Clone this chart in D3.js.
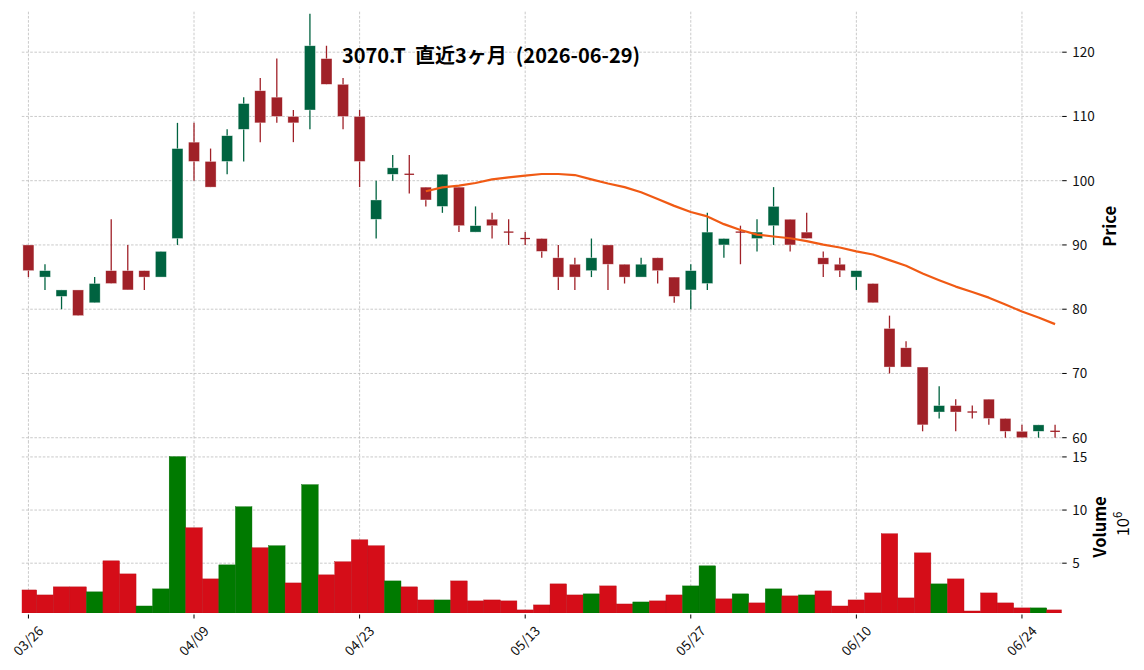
<!DOCTYPE html>
<html><head><meta charset="utf-8">
<script src="https://cdn.jsdelivr.net/npm/d3@7/dist/d3.min.js"></script>
<style>
html,body{margin:0;padding:0;background:#fff;}
svg{display:block;font-family:"Noto Sans CJK JP","Noto Sans",sans-serif;}
</style></head>
<body><svg id="c" width="1144" height="670"></svg>
<script>
const dates = ["03/26","03/27","03/30","03/31","04/01","04/02","04/03","04/06","04/07","04/08",
"04/09","04/10","04/13","04/14","04/15","04/16","04/17","04/20","04/21","04/22",
"04/23","04/24","04/27","04/28","04/30","05/01","05/07","05/08","05/11","05/12",
"05/13","05/14","05/15","05/18","05/19","05/20","05/21","05/22","05/25","05/26",
"05/27","05/28","05/29","06/01","06/02","06/03","06/04","06/05","06/08","06/09",
"06/10","06/11","06/12","06/15","06/16","06/17","06/18","06/19","06/22","06/23",
"06/24","06/25","06/26"];
const opens  = [90,85,82,83,81,86,86,86,85,91,106,103,103,108,114,113,110,111,119,115,110,94,101,101,99,96,99,92,94,92,91,91,88,87,86,90,87,85,88,85,83,84,90,92,91,93,94,92,88,87,85,84,77,74,71,64,65,64,66,63,61,61,61];
const highs  = [90,87,83,83,85,94,90,86,89,109,109,105,108,113,116,119,111,126,121,116,111,100,104,104,99,101,99,96,95,94,92,91,90,88,91,90,87,88,88,85,87,95,91,93,94,99,94,95,89,88,86,84,79,75,71,68,66,65,66,63,62,62,62];
const lows   = [85,83,80,79,81,84,83,83,85,90,100,99,101,103,106,109,106,108,115,108,99,91,100,98,96,95,92,92,91,90,90,88,83,83,85,83,84,85,84,81,80,83,88,87,89,90,89,91,85,85,83,81,70,71,61,63,61,63,62,60,60,60,60];
const closes = [86,86,83,79,84,84,83,85,89,105,103,99,107,112,109,110,109,121,115,110,103,97,102,101,97,101,93,93,93,92,91,89,85,85,88,87,85,87,86,82,86,92,91,92,92,96,90,91,87,86,86,81,71,71,62,65,64,64,63,61,60,62,61];
const volumes = [2.48,2.01,2.77,2.77,2.30,5.22,3.99,0.97,2.58,15.03,8.33,3.52,4.84,10.31,6.45,6.64,3.14,12.39,3.90,5.13,7.20,6.64,3.33,2.77,1.54,1.54,3.33,1.45,1.54,1.45,0.60,1.07,3.05,2.01,2.11,2.86,1.16,1.35,1.45,2.01,2.86,4.75,1.64,2.11,1.26,2.58,1.92,2.01,2.39,0.97,1.54,2.20,7.77,1.73,5.97,3.05,3.52,0.50,2.20,1.26,0.79,0.79,0.60];
const ma25 = [null,null,null,null,null,null,null,null,null,null,null,null,null,null,null,null,null,null,null,null,null,null,null,null,
98.36,98.96,99.24,99.64,100.2,100.52,100.8,101.04,101.04,100.88,100.2,99.56,99.0,98.2,97.16,96.08,95.12,94.44,93.24,92.32,91.6,91.32,91.04,90.6,90.04,89.6,89.0,88.52,87.64,86.76,85.56,84.52,83.52,82.68,81.8,80.72,79.64,78.72,77.68];
const xTickLabels = ["03/26","04/09","04/23","05/13","05/27","06/10","06/24"];
const priceTicks = [60,70,80,90,100,110,120];
const volumeTicks = [5,10,15];
const titleText = "3070.T\u00a0\u00a0直近3ヶ月\u00a0\u00a0(2026-06-29)";

const svg = d3.select("#c");
const L = 21.8, R = 1061.7;
const pTop = 11.7, pBot = 441, vTop = 441, vBot = 613;
const x = d3.scaleLinear().domain([-0.4, dates.length - 1 + 0.4]).range([L, R]);
const yP = d3.scaleLinear().domain([59.49, 126.3]).range([pBot, pTop]);
const yV = d3.scaleLinear().domain([0.31, 16.5]).range([vBot, vTop]);
const step = x(1) - x(0);
const gridColor = "#bdbdbd";
const idx = d3.range(dates.length);
const tickIdx = xTickLabels.map(t => dates.indexOf(t));

svg.append("defs").append("clipPath").attr("id","vclip").append("rect")
  .attr("x", L).attr("y", vTop).attr("width", R - L).attr("height", vBot - vTop);

// grids
const grid = svg.append("g").attr("stroke", gridColor).attr("stroke-width", 0.8).attr("stroke-dasharray", "2.6,1.6").attr("fill","none");
priceTicks.forEach(t => grid.append("line").attr("x1", L).attr("x2", R).attr("y1", yP(t)).attr("y2", yP(t)));
volumeTicks.forEach(t => grid.append("line").attr("x1", L).attr("x2", R).attr("y1", yV(t)).attr("y2", yV(t)));
tickIdx.forEach(i => {
  grid.append("line").attr("x1", x(i)).attr("x2", x(i)).attr("y1", pTop).attr("y2", pBot);
  grid.append("line").attr("x1", x(i)).attr("x2", x(i)).attr("y1", vTop).attr("y2", vBot);
});

// volume bars
const vUp = "#007a00", vDn = "#d50d18";
const isUpVol = i => closes[i] > (i === 0 ? opens[0] : closes[i - 1]);
svg.append("g").attr("clip-path","url(#vclip)").selectAll("rect").data(idx).join("rect")
  .attr("x", i => x(i) - step / 2).attr("width", step)
  .attr("y", i => yV(volumes[i])).attr("height", i => yV.range()[0] - yV(volumes[i]))
  .attr("fill", i => isUpVol(i) ? vUp : vDn)
  .attr("stroke", i => isUpVol(i) ? "#006a00" : "#b80c15").attr("stroke-width", 0.4);

// candles
const cUp = "#006340", cDn = "#A02128";
const bw = 11;
const cg = svg.append("g");
idx.forEach(i => {
  const col = closes[i] > opens[i] ? cUp : cDn;
  cg.append("line").attr("x1", x(i)).attr("x2", x(i)).attr("y1", yP(highs[i])).attr("y2", yP(lows[i]))
    .attr("stroke", col).attr("stroke-width", 1.3);
  if (opens[i] === closes[i]) {
    cg.append("line").attr("x1", x(i) - 4.8).attr("x2", x(i) + 4.8).attr("y1", yP(opens[i])).attr("y2", yP(opens[i]))
      .attr("stroke", col).attr("stroke-width", 1.3);
  } else {
    const top = yP(Math.max(opens[i], closes[i])), bot = yP(Math.min(opens[i], closes[i]));
    cg.append("rect").attr("x", x(i) - bw / 2).attr("width", bw).attr("y", top).attr("height", bot - top)
      .attr("fill", col).attr("stroke", "#ffffff").attr("stroke-opacity", 0.6).attr("stroke-width", 0.6);
  }
});

// moving average
const line = d3.line().defined(i => ma25[i] !== null).x(i => x(i)).y(i => yP(ma25[i])).curve(d3.curveLinear);
svg.append("path").datum(idx).attr("d", line).attr("fill", "none").attr("stroke", "#f05a14").attr("stroke-width", 2.2)
  .attr("stroke-linejoin","round");

// right y axes
const axP = svg.append("g");
priceTicks.forEach(t => {
  axP.append("line").attr("x1", R + 0.5).attr("x2", R + 5).attr("y1", yP(t)).attr("y2", yP(t)).attr("stroke", "#000").attr("stroke-width", 1);
  axP.append("text").attr("x", R + 10.5).attr("y", yP(t)).attr("dy", "0.36em").attr("font-size", 13.5).attr("fill", "#111").text(t);
});
volumeTicks.forEach(t => {
  axP.append("line").attr("x1", R + 0.5).attr("x2", R + 5).attr("y1", yV(t)).attr("y2", yV(t)).attr("stroke", "#000").attr("stroke-width", 1);
  axP.append("text").attr("x", R + 10.5).attr("y", yV(t)).attr("dy", "0.36em").attr("font-size", 13.5).attr("fill", "#111").text(t);
});

// x axis ticks
tickIdx.forEach((i, k) => {
  svg.append("line").attr("x1", x(i)).attr("x2", x(i)).attr("y1", vBot + 1.5).attr("y2", vBot + 5.5).attr("stroke", "#000").attr("stroke-width", 1);
  svg.append("text").attr("transform", `translate(${x(i)},641) rotate(-45)`).attr("text-anchor", "middle")
    .attr("dy", "0.35em").attr("font-size", 13.5).attr("fill", "#111").text(xTickLabels[k]);
});

// labels
svg.append("text").attr("transform", `translate(1116,${(pTop + pBot) / 2}) rotate(-90)`).attr("text-anchor", "middle")
  .attr("font-size", 16.5).attr("font-weight", "bold").text("Price");
svg.append("text").attr("transform", `translate(1106,${(vTop + vBot) / 2}) rotate(-90)`).attr("text-anchor", "middle")
  .attr("font-size", 16.5).attr("font-weight", "bold").text("Volume");
const t2 = svg.append("text").attr("transform", `translate(1129,${(vTop + vBot) / 2 - 3}) rotate(-90)`).attr("text-anchor", "middle")
  .attr("font-size", 16.5);
t2.append("tspan").text("10");
t2.append("tspan").attr("font-size", 11.5).attr("dy", -7).text("6");

// title
svg.append("text").attr("x", 491).attr("y", 63).attr("text-anchor", "middle").attr("font-size", 20)
  .attr("font-weight", "bold").attr("fill", "#000").text(titleText);
</script></body></html>
